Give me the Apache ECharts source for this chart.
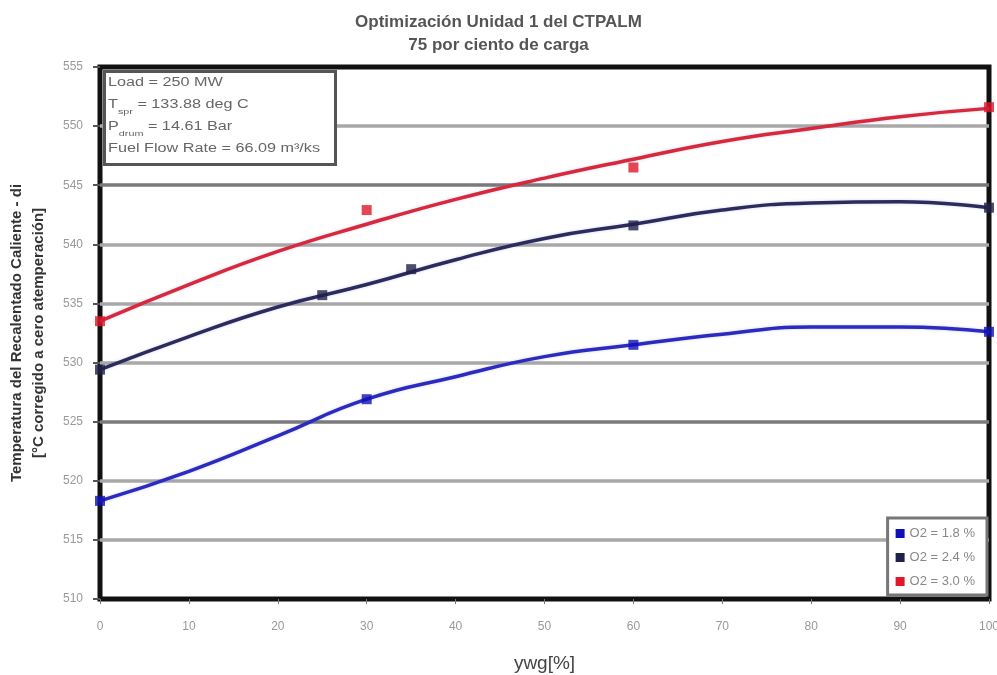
<!DOCTYPE html>
<html>
<head>
<meta charset="utf-8">
<script src="https://cdn.jsdelivr.net/npm/echarts@6/dist/echarts.min.js"></script>
<style>
  html, body { margin: 0; padding: 0; background: #fff; }
  #chart { width: 997px; height: 675px; }
</style>
</head>
<body>
<div id="chart"></div>
<script>
// Trend curves (x = ywg %, y = °C) and measured points for each O2 level
const xTicks = [0, 10, 20, 30, 40, 50, 60, 70, 80, 90, 100];
const seriesNames = ['O2 = 1.8 %', 'O2 = 2.4 %', 'O2 = 3.0 %'];

const curveLow  = [518.3, 520.8, 523.8, 526.9, 528.8, 530.5, 531.5, 532.4, 533.0, 533.0, 532.6];
const curveMid  = [529.4, 532.2, 534.7, 536.6, 538.7, 540.5, 541.7, 542.9, 543.5, 543.6, 543.1];
const curveHigh = [533.5, 536.6, 539.4, 541.7, 543.8, 545.6, 547.2, 548.7, 549.8, 550.8, 551.5];

const pointsLowX  = [0, 30, 60, 100];
const pointsLowY  = [518.3, 526.9, 531.5, 532.6];
const pointsMidX  = [0, 25, 35, 60, 100];
const pointsMidY  = [529.4, 535.7, 537.9, 541.6, 543.1];
const pointsHighX = [0, 30, 60, 100];
const pointsHighY = [533.5, 542.9, 546.5, 551.6];

const yMin = 510, yMax = 555, yStep = 5;

const pair = (xs, ys) => xs.map((x, i) => [x, ys[i]]);

const colors = {
  low:  { line: '#2b2bc0', mark: '#1010b8' },
  mid:  { line: '#2c2c5c', mark: '#20204a' },
  high: { line: '#d8283a', mark: '#e01828' }
};

const FONT = 'Liberation Sans, Arial, sans-serif';
const chart = echarts.init(document.getElementById('chart'));

function curve(name, values, c) {
  return {
    name: name, type: 'line', smooth: true, showSymbol: false, z: 3,
    data: pair(xTicks, values),
    lineStyle: { color: c.line, width: 3.5, shadowColor: 'rgba(120,120,220,0.35)', shadowBlur: 3 },
    itemStyle: { color: c.mark },
    emphasis: { disabled: true }
  };
}
function points(name, xs, ys, c) {
  return {
    name: name, type: 'scatter', symbol: 'rect', symbolSize: 10, z: 4,
    data: pair(xs, ys),
    itemStyle: { color: c.mark }
  };
}

chart.setOption({
  animation: false,
  backgroundColor: '#ffffff',
  textStyle: { fontFamily: FONT },
  title: {
    text: 'Optimización Unidad 1 del CTPALM\n75 por ciento de carga',
    left: 'center', top: 6,
    textStyle: { fontSize: 17, fontWeight: 'bold', color: '#555', lineHeight: 23, fontFamily: FONT }
  },
  grid: {
    left: 100, right: 8, top: 67, bottom: 76,
    outerBoundsMode: 'none',
    show: true, borderColor: '#111', borderWidth: 5
  },
  xAxis: {
    type: 'value', min: 0, max: 100, interval: 10,
    name: 'ywg[%]', nameLocation: 'middle', nameGap: 55,
    nameTextStyle: { fontSize: 19, color: '#444' },
    axisLine: { show: false },
    axisTick: { show: true, length: 5, lineStyle: { color: '#777' } },
    axisLabel: { color: '#999', fontSize: 12, margin: 22 },
    splitLine: { show: false }
  },
  yAxis: {
    type: 'value', min: yMin, max: yMax, interval: yStep,
    name: 'Temperatura del Recalentado Caliente - di\n[°C corregido a cero atemperación]',
    nameLocation: 'middle', nameRotate: 90, nameGap: 50,
    nameTextStyle: { fontSize: 15, fontWeight: 'bold', color: '#333', lineHeight: 22 },
    axisLine: { show: false },
    axisTick: { show: true, inside: false, length: 7, lineStyle: { color: '#555', width: 2 } },
    axisLabel: { color: '#999', fontSize: 12, margin: 17 },
    splitLine: {
      show: true, showMinLine: false, showMaxLine: false,
      lineStyle: { width: 3.5, color: ['#a8a8a8', '#a8a8a8', '#7a7a7a', '#a8a8a8'] }
    }
  },
  legend: {
    data: seriesNames.map(n => ({ name: n, icon: 'rect' })),
    orient: 'vertical', right: 10, bottom: 80,
    itemWidth: 9, itemHeight: 9, itemGap: 11,
    padding: [9, 12, 7, 8],
    backgroundColor: '#fff', borderColor: '#777', borderWidth: 3,
    textStyle: { fontSize: 13, color: '#888' }
  },
  graphic: [
    { type: 'rect', left: 103, top: 70, z: 10,
      shape: { width: 231, height: 93 },
      style: { fill: '#fff', stroke: '#555', lineWidth: 3 } },
    { type: 'text', left: 108, top: 77, z: 11, scaleX: 1.35,
      style: {
        text: '{n|Load = 250 MW}\n{n|T}{s|spr}{n| = 133.88 deg C}\n{n|P}{s|drum}{n| = 14.61 Bar}\n{n|Fuel Flow Rate = 66.09 m³/ks}',
        fontFamily: FONT,
        rich: {
          n: { fontSize: 12, fill: '#666', lineHeight: 22, verticalAlign: 'middle', fontFamily: FONT },
          s: { fontSize: 8, fill: '#666', lineHeight: 22, verticalAlign: 'bottom', fontFamily: FONT }
        }
      } }
  ],
  series: [
    curve(seriesNames[0], curveLow, colors.low),
    curve(seriesNames[1], curveMid, colors.mid),
    curve(seriesNames[2], curveHigh, colors.high),
    points(seriesNames[0], pointsLowX, pointsLowY, colors.low),
    points(seriesNames[1], pointsMidX, pointsMidY, colors.mid),
    points(seriesNames[2], pointsHighX, pointsHighY, colors.high)
  ]
});
</script>
</body>
</html>
